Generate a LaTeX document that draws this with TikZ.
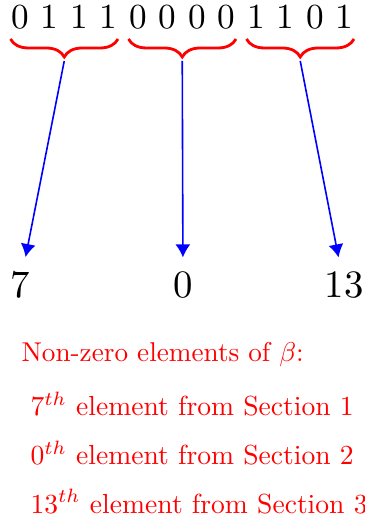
\documentclass[tikz,border=0pt]{standalone}
\usepackage{amsmath,amssymb}
\usetikzlibrary{arrows.meta,decorations.pathreplacing,positioning}

\begin{document}
\begin{tikzpicture}[
        x=0.5pt,
        y=0.5pt,
        bit/.style={inner sep=0pt, anchor=base, scale=1.76},
        result/.style={inner sep=3.6pt, anchor=base, scale=1.94},
        note/.style={inner sep=0pt, anchor=base west, text=red},
        groupbrace/.style={decorate, decoration={brace, mirror, amplitude=9pt}, draw=red, line width=1.4pt},
        pick/.style={draw=blue, line width=0.8pt},
        >={Latex[length=6.5pt,width=7.5pt]}
    ]
        \useasboundingbox (0,0) rectangle (364,523);

        \foreach \b [count=\i] in {0,1,1,1,0,0,0,0,1,1,0,1}{
            \node[bit] (d\i) at ({20+29.5*(\i-1)},494) {\b};
        }

        \draw[groupbrace] ([yshift=-5pt]d1.base west) -- ([yshift=-5pt]d4.base east)
            coordinate[midway, below=11pt] (t1);
        \draw[groupbrace] ([yshift=-5pt]d5.base west) -- ([yshift=-5pt]d8.base east)
            coordinate[midway, below=11pt] (t2);
        \draw[groupbrace] ([yshift=-5pt]d9.base west) -- ([yshift=-5pt]d12.base east)
            coordinate[midway, below=11pt] (t3);

        \node[result] (r1) at (20,225) {7};
        \node[result] (r2) at (183,225) {0};
        \node[result] (r3) at (344,225) {13};

        \foreach \i in {1,2,3}{
            \draw[pick, ->] (t\i) -- (r\i);
        }

        \node[note, scale=1.36] (title) at (21,161) {Non-zero elements of $\beta$:};
        \foreach \y/\k/\s in {107/7/1, 58/0/2, 10/13/3}{
            \node[note, scale=1.38] (line\s) at (30,\y) {$\k^{th}$ element from Section \s};
        }
    \end{tikzpicture}
\end{document}
